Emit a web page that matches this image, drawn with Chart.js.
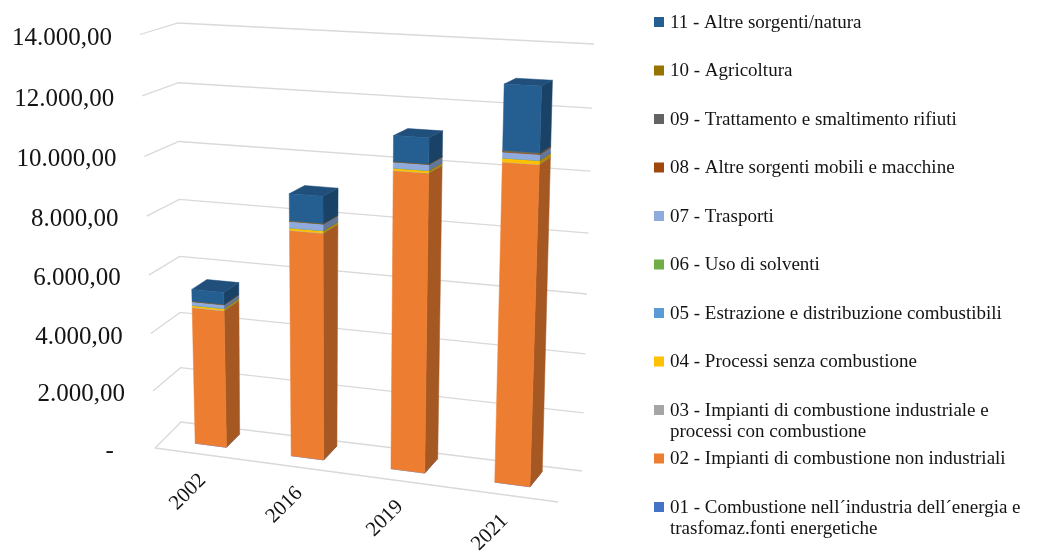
<!DOCTYPE html>
<html>
<head>
<meta charset="utf-8">
<script src="https://cdn.jsdelivr.net/npm/chart.js@4.4.1/dist/chart.umd.min.js"></script>
<style>
  html, body { margin: 0; padding: 0; background: #ffffff; }
  #wrap { width: 1040px; height: 552px; position: relative; }
</style>
</head>
<body>
<div id="wrap"><canvas id="chart" width="1040" height="552"></canvas></div>
<script>
// ---- data -------------------------------------------------------------
const years = ['2002', '2016', '2019', '2021'];

const sectorNames = [
  '01 - Combustione nell\u00B4industria dell\u00B4energia e\ntrasfomaz.fonti energetiche',
  '02 - Impianti di combustione non industriali',
  '03 - Impianti di combustione industriale e\nprocessi con combustione',
  '04 - Processi senza combustione',
  '05 - Estrazione e distribuzione combustibili',
  '06 - Uso di solventi',
  '07 - Trasporti',
  '08 - Altre sorgenti mobili e macchine',
  '09 - Trattamento e smaltimento rifiuti',
  '10 - Agricoltura',
  '11 - Altre sorgenti/natura'
];

const s01 = [1.5, 1.2, 1.1, 1.0];
const s02 = [4762, 7694, 9918, 10430];
const s03 = [14, 12, 12, 11];
const s04 = [68, 80, 77, 125];
const s05 = [0.4, 0.3, 0.3, 0.3];
const s06 = [1.0, 0.8, 0.8, 0.7];
const s07 = [127, 217, 192, 185];
const s08 = [8, 7, 7, 15];
const s09 = [4, 4, 5, 25];
const s10 = [5, 5, 5, 9];
const s11 = [406, 899, 829, 2063];

const yTicks = [0, 2000, 4000, 6000, 8000, 10000, 12000, 14000];

// ---- styling ----------------------------------------------------------
const sectorColors = ['#4472C4', '#ED7D31', '#A5A5A5', '#FFC000', '#5B9BD5', '#70AD47',
                      '#8FAADC', '#9E480E', '#636363', '#997300', '#255E91'];
const SERIF = '"Liberation Serif", "Times New Roman", serif';
const GRID = '#d9d9d9';
const INK = '#141414';

// Corners of the back wall (depth 1) and of the front face of the plot box
// (depth 0) on the canvas: [x across, y up] in unit box coords -> canvas px.
const backWall = [[0, 0, 181, 422], [1, 0, 582, 471], [1, 1, 594, 44], [0, 1, 178, 23]];
const frontFace = [[0, 0, 155, 448], [1, 0, 558, 502], [1, 1, 575, 54], [0, 1, 140, 34.5]];
const barDepth = [0.34, 0.84];                   // front / back of every column, in box depth units
const heightBend = { front: 0.03, back: -0.02 }; // vertical foreshortening of each plane

// ---- projection -------------------------------------------------------
function solveLinear(rows, n) {
  const A = rows.map(([r, b]) => Float64Array.from([...r, b]));
  for (let c = 0; c < n; c++) {
    let piv = c;
    for (let r = c + 1; r < n; r++) if (Math.abs(A[r][c]) > Math.abs(A[piv][c])) piv = r;
    const t = A[c]; A[c] = A[piv]; A[piv] = t;
    for (let r = 0; r < n; r++) {
      if (r === c) continue;
      const f = A[r][c] / A[c][c];
      for (let k = c; k <= n; k++) A[r][k] -= f * A[c][k];
    }
  }
  return A.map((row, i) => row[n] / row[i]);
}

function planeMap(corners, bend) {
  const rows = [];
  corners.forEach(([X, Y, x, y]) => {
    rows.push([[X, Y, 1, 0, 0, 0, -x * X, -x * Y], x]);
    rows.push([[0, 0, 0, X, Y, 1, -y * X, -y * Y], y]);
  });
  const h = solveLinear(rows, 8);
  return (X, Y) => {
    const Yb = Y * (1 + bend) / (1 + bend * Y);
    const w = h[6] * X + h[7] * Yb + 1;
    return { x: (h[0] * X + h[1] * Yb + h[2]) / w, y: (h[3] * X + h[4] * Yb + h[5]) / w };
  };
}
const Hback = planeMap(backWall, heightBend.back);
const Hfront = planeMap(frontFace, heightBend.front);
function P(X, Y, Z) {
  const f = Hfront(X, Y), b = Hback(X, Y);
  return { x: f.x + (b.x - f.x) * Z, y: f.y + (b.y - f.y) * Z };
}

function shade(hex, f) {
  const n = parseInt(hex.slice(1), 16);
  const r = Math.round(((n >> 16) & 255) * f), g = Math.round(((n >> 8) & 255) * f), b = Math.round((n & 255) * f);
  return `rgb(${r},${g},${b})`;
}

function fillQuad(ctx, pts, color) {
  ctx.beginPath();
  ctx.moveTo(pts[0].x, pts[0].y);
  for (let i = 1; i < pts.length; i++) ctx.lineTo(pts[i].x, pts[i].y);
  ctx.closePath();
  ctx.fillStyle = color;
  ctx.fill();
  ctx.strokeStyle = color;
  ctx.lineWidth = 0.5;
  ctx.stroke();
}

function formatValue(t) {
  return Math.round(t).toString().replace(/\B(?=(\d{3})+(?!\d))/g, '.') + ',00';
}

// ---- plugin: perspective walls, columns, axis labels, legend ----------
const perspective = {
  id: 'perspective',
  beforeDraw(chart) {
    const { ctx, scales: { y }, chartArea: a } = chart;
    ctx.save();
    ctx.strokeStyle = GRID;
    ctx.lineWidth = 1.3;
    yTicks.forEach(t => {
      const v = (a.bottom - y.getPixelForValue(t)) / (a.bottom - a.top);
      const p0 = P(0, v, 0), p1 = P(0, v, 1), p2 = P(1, v, 1);
      ctx.beginPath();
      ctx.moveTo(p0.x, p0.y); ctx.lineTo(p1.x, p1.y); ctx.lineTo(p2.x, p2.y);
      ctx.stroke();
    });
    const f0 = P(0, 0, 0), f1 = P(1, 0, 0);
    ctx.beginPath(); ctx.moveTo(f0.x, f0.y); ctx.lineTo(f1.x, f1.y); ctx.stroke();
    ctx.restore();
  },
  beforeDatasetsDraw(chart) {
    const { ctx, chartArea: a } = chart;
    const W = a.right - a.left, H = a.bottom - a.top;
    const [zf, zb] = barDepth;
    const n = chart.data.datasets.length;
    ctx.save();
    chart.data.labels.forEach((_, i) => {
      let topIdx = -1;
      for (let d = 0; d < n; d++) if (chart.data.datasets[d].data[i] > 0) topIdx = d;
      for (let d = 0; d < n; d++) {
        const el = chart.getDatasetMeta(d).data[i];
        if (!el) continue;
        const u0 = (el.x - el.width / 2 - a.left) / W, u1 = (el.x + el.width / 2 - a.left) / W;
        const v0 = (a.bottom - el.base) / H, v1 = (a.bottom - el.y) / H;
        if (v1 - v0 <= 0) continue;
        const col = chart.data.datasets[d].backgroundColor;
        fillQuad(ctx, [P(u1, v0, zf), P(u1, v0, zb), P(u1, v1, zb), P(u1, v1, zf)], shade(col, 0.7));
        if (d === topIdx) {
          fillQuad(ctx, [P(u0, v1, zf), P(u1, v1, zf), P(u1, v1, zb), P(u0, v1, zb)], shade(col, 0.84));
        }
        fillQuad(ctx, [P(u0, v0, zf), P(u1, v0, zf), P(u1, v1, zf), P(u0, v1, zf)], col);
      }
    });
    ctx.restore();
    return false;
  },
  afterDraw(chart) {
    const { ctx, scales: { y, x }, chartArea: a } = chart;
    ctx.save();
    ctx.fillStyle = INK;

    // value labels along the front edge of the side wall
    ctx.font = `25px ${SERIF}`;
    ctx.textAlign = 'right';
    ctx.textBaseline = 'middle';
    const digit = ctx.measureText('0').width;
    yTicks.forEach(t => {
      const v = (a.bottom - y.getPixelForValue(t)) / (a.bottom - a.top);
      const p = P(0, v, 0);
      if (t === 0) ctx.fillText('-', p.x - 28 - digit * 1.05, p.y + 3.5);
      else ctx.fillText(formatValue(t), p.x - 28, p.y + 3.5);
    });

    // category labels below the front edge of the floor
    ctx.font = `21px ${SERIF}`;
    chart.data.labels.forEach((lab, i) => {
      const u = (x.getPixelForValue(i) - a.left) / (a.right - a.left);
      const p = P(u, 0, 0);
      ctx.save();
      ctx.translate(p.x + 1, p.y + 23);
      ctx.rotate(-Math.PI / 4);
      ctx.textAlign = 'right';
      ctx.textBaseline = 'middle';
      ctx.fillText(lab, 0, 0);
      ctx.restore();
    });

    // legend, last sector first
    ctx.font = `19px ${SERIF}`;
    ctx.textAlign = 'left';
    ctx.textBaseline = 'middle';
    const ds = chart.data.datasets;
    for (let k = 0; k < ds.length; k++) {
      const d = ds[ds.length - 1 - k];
      const rowY = 22 + k * 48.5;
      ctx.fillStyle = d.backgroundColor;
      ctx.fillRect(654, rowY - 5, 10, 10);
      ctx.fillStyle = INK;
      d.label.split('\n').forEach((line, j) => ctx.fillText(line, 670, rowY + 1 + j * 21));
    }
    ctx.restore();
  }
};

// ---- chart ------------------------------------------------------------
const series = [s01, s02, s03, s04, s05, s06, s07, s08, s09, s10, s11];

new Chart(document.getElementById('chart').getContext('2d'), {
  type: 'bar',
  data: {
    labels: years,
    datasets: series.map((vals, i) => ({
      label: sectorNames[i],
      data: vals,
      backgroundColor: sectorColors[i],
      categoryPercentage: 1,
      barPercentage: 0.33
    }))
  },
  options: {
    responsive: false,
    animation: false,
    layout: { padding: { left: 155, right: 482, top: 36, bottom: 102 } },
    plugins: { legend: { display: false }, tooltip: { enabled: false } },
    scales: {
      x: { stacked: true, display: false },
      y: { stacked: true, display: false, min: 0, max: 14000 }
    }
  },
  plugins: [perspective]
});
</script>
</body>
</html>
